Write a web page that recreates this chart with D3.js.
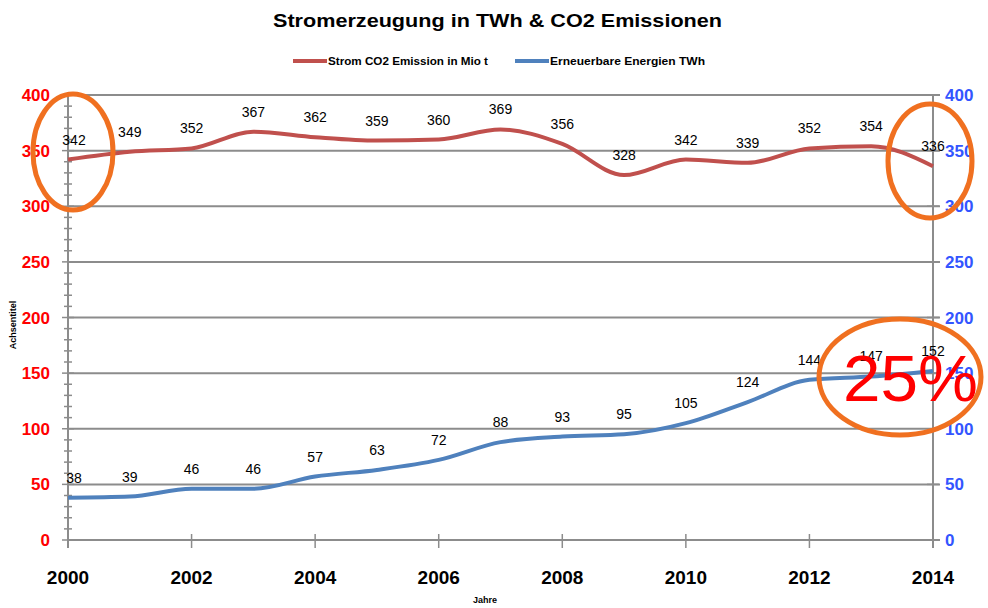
<!DOCTYPE html>
<html><head><meta charset="utf-8">
<script src="https://cdn.jsdelivr.net/npm/d3@7"></script>
<style>body{margin:0;background:#fff;}svg{display:block;font-family:"Liberation Sans",Arial,sans-serif;}</style>
</head><body>
<svg id="c" width="988" height="608"></svg>
<script>
const years = [2000,2001,2002,2003,2004,2005,2006,2007,2008,2009,2010,2011,2012,2013,2014];
const co2 = [342,349,352,367,362,359,360,369,356,328,342,339,352,354,336];
const renewable = [38,39,46,46,57,63,72,88,93,95,105,124,144,147,152];
const yTicks = [0,50,100,150,200,250,300,350,400];
const xTicks = [2000,2002,2004,2006,2008,2010,2012,2014];
const seriesNames = ["Strom CO2 Emission in Mio t","Erneuerbare Energien TWh"];

const svg = d3.select("#c");
const x = d3.scaleLinear().domain([2000,2014]).range([68,933]);
const y = d3.scaleLinear().domain([0,400]).range([540,95]);
const grey = "#8c8c8c";

// title
svg.append("text").attr("x",273).attr("y",27)
  .attr("font-size",18).attr("font-weight","bold")
  .attr("textLength",449).attr("lengthAdjust","spacingAndGlyphs")
  .text("Stromerzeugung in TWh & CO2 Emissionen");

// legend
const leg = [{c:"#c0504d",x:293,t:seriesNames[0],w:160},{c:"#4f81bd",x:515,t:seriesNames[1],w:155}];
leg.forEach(l=>{
  svg.append("line").attr("x1",l.x).attr("x2",l.x+34).attr("y1",61).attr("y2",61).attr("stroke",l.c).attr("stroke-width",4);
  svg.append("text").attr("x",l.x+35).attr("y",65).attr("font-size",10).attr("font-weight","bold")
    .attr("textLength",l.w).attr("lengthAdjust","spacingAndGlyphs").text(l.t);
});

// gridlines
svg.append("g").selectAll("line").data(yTicks.filter(d=>d>0)).join("line")
  .attr("x1",68).attr("x2",940).attr("y1",d=>y(d)).attr("y2",d=>y(d))
  .attr("stroke",grey).attr("stroke-width",2);

// left axis
svg.append("line").attr("x1",68).attr("x2",68).attr("y1",95).attr("y2",548).attr("stroke",grey).attr("stroke-width",2);
svg.append("g").selectAll("line").data(d3.range(0,401,10)).join("line")
  .attr("x1",d=>d%50===0?62:64).attr("x2",d=>d%50===0?74:72).attr("y1",d=>y(d)).attr("y2",d=>y(d))
  .attr("stroke",grey).attr("stroke-width",1.5);
svg.append("g").selectAll("text").data(yTicks).join("text")
  .attr("x",50).attr("y",d=>y(d)+6).attr("text-anchor","end")
  .attr("font-size",17).attr("font-weight","bold").attr("fill","#ff0000").text(d=>d);

// right axis
svg.append("line").attr("x1",933).attr("x2",933).attr("y1",95).attr("y2",548).attr("stroke",grey).attr("stroke-width",2);
svg.append("g").selectAll("line").data(yTicks).join("line")
  .attr("x1",927).attr("x2",939).attr("y1",d=>y(d)).attr("y2",d=>y(d))
  .attr("stroke",grey).attr("stroke-width",1.5);
svg.append("g").selectAll("text").data(yTicks).join("text")
  .attr("x",945).attr("y",d=>y(d)+6).attr("text-anchor","start")
  .attr("font-size",17).attr("font-weight","bold").attr("fill","#3355ff").text(d=>d);

// x axis
svg.append("line").attr("x1",68).attr("x2",940).attr("y1",540).attr("y2",540).attr("stroke",grey).attr("stroke-width",2);
svg.append("g").selectAll("line").data(xTicks).join("line")
  .attr("x1",d=>x(d)).attr("x2",d=>x(d)).attr("y1",534).attr("y2",548)
  .attr("stroke",grey).attr("stroke-width",1.5);
svg.append("g").selectAll("text").data(xTicks).join("text")
  .attr("x",d=>x(d)).attr("y",584).attr("text-anchor","middle")
  .attr("font-size",19).attr("font-weight","bold").text(d=>d);

// axis titles
svg.append("text").attr("x",485).attr("y",603).attr("text-anchor","middle").attr("font-size",9).attr("font-weight","bold").text("Jahre");
svg.append("text").attr("transform","translate(16,325) rotate(-90)").attr("text-anchor","middle").attr("font-size",9).attr("font-weight","bold").text("Achsentitel");

// lines
const line = d3.line().x((d,i)=>x(years[i])).y(d=>y(d)).curve(d3.curveMonotoneX);
svg.append("path").attr("d",line(co2)).attr("fill","none").attr("stroke","#c0504d").attr("stroke-width",4);
svg.append("path").attr("d",line(renewable)).attr("fill","none").attr("stroke","#4f81bd").attr("stroke-width",4);

// data labels
[co2,renewable].forEach(s=>{
  svg.append("g").selectAll("text").data(s).join("text")
    .attr("x",(d,i)=>x(years[i])+(i===0?6:0)).attr("y",(d,i)=>y(d)-15)
    .attr("text-anchor","middle").attr("font-size",14).attr("fill","#000").text(d=>d);
});

// annotations
const orange = "#f07020";
svg.append("ellipse").attr("cx",73).attr("cy",152).attr("rx",40).attr("ry",58).attr("fill","none").attr("stroke",orange).attr("stroke-width",5);
svg.append("ellipse").attr("cx",930).attr("cy",161).attr("rx",42).attr("ry",57).attr("fill","none").attr("stroke",orange).attr("stroke-width",5);
svg.append("text").attr("x",843).attr("y",401).attr("font-size",64).attr("fill","#ff0000")
  .attr("textLength",135).attr("lengthAdjust","spacingAndGlyphs").text("25%");
svg.append("ellipse").attr("cx",900).attr("cy",377).attr("rx",81).attr("ry",58).attr("fill","none").attr("stroke",orange).attr("stroke-width",5);
</script>
</body></html>
